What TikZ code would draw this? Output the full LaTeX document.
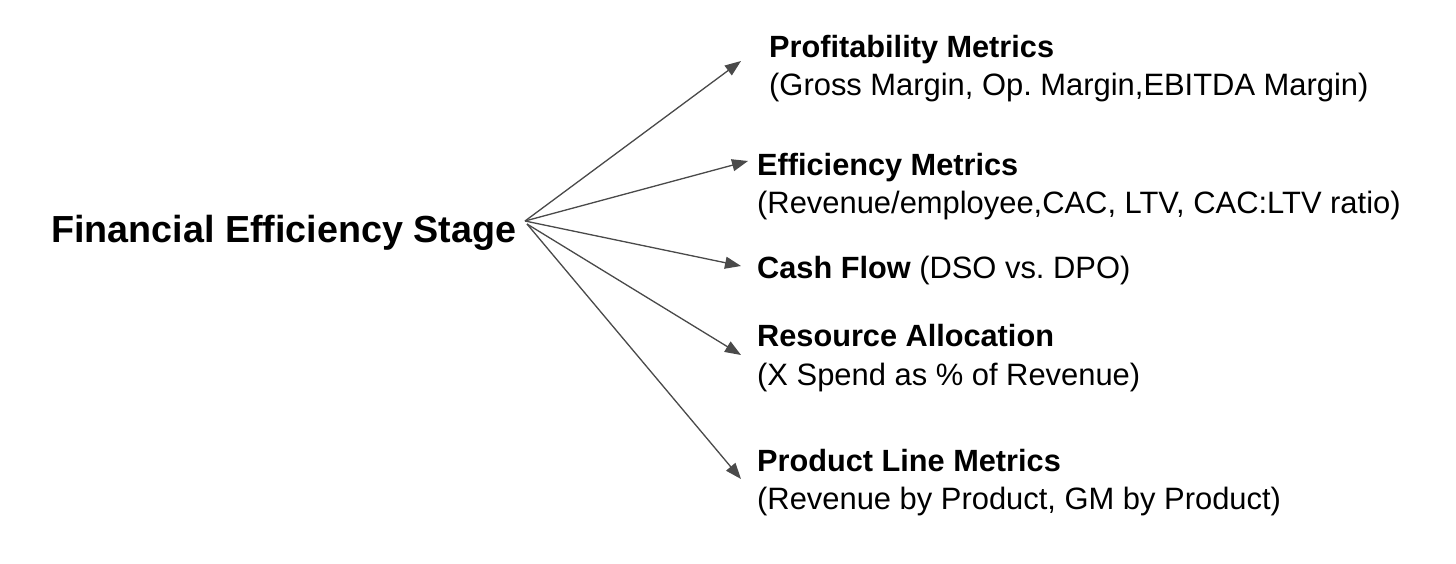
\documentclass[tikz,border=0pt]{standalone}
\usepackage{fontspec}
\setmainfont{Liberation Sans}
\usetikzlibrary{arrows.meta}
\definecolor{arrowgray}{HTML}{4A4A4A}
\frenchspacing
\tikzset{
  titletext/.style={font=\fontsize{37.7}{44}\selectfont\bfseries, inner sep=0pt, anchor=base west},
  headtext/.style={font=\fontsize{30.7}{36}\selectfont\bfseries, inner sep=0pt, anchor=base west},
  subtext/.style={font=\fontsize{30.9}{36}\selectfont, inner sep=0pt, anchor=base west},
  fanarrow/.style={draw=arrowgray, line width=1.3pt, -{Triangle[length=16pt,width=12pt]}, fill=arrowgray}
}
\begin{document}
\begin{tikzpicture}[x=1pt,y=-1pt]
\useasboundingbox (0,0) rectangle (1456,564);
\fill[white] (0,0) rectangle (1456,564);
\node[titletext] (title) at (51,242) {Financial Efficiency Stage};
\coordinate (hub) at (525,221);
\coordinate (hubb) at (527,224);

\node[headtext] (p1) at (769,58) {Profitability Metrics};
\node[subtext] (p2) at (769,96) {(Gross Margin, Op. Margin,EBITDA Margin)};
\node[headtext] (e1) at (757,176) {Efficiency Metrics};
\node[subtext] (e2) at (757,214) {(Revenue/employee,CAC, LTV, CAC:LTV ratio)};
\node[headtext] (c1) at (757,278) {Cash Flow \fontsize{30.9}{36}\mdseries(DSO vs. DPO)};
\node[headtext] (r1) at (757,346) {Resource Allocation};
\node[subtext] (r2) at (757,385) {(X Spend as \% of Revenue)};
\node[headtext] (l1) at (757,471) {Product Line Metrics};
\node[subtext] (l2) at (757,509) {(Revenue by Product, GM by Product)};

\coordinate (tp) at (741,61);
\coordinate (te) at (748,161);
\coordinate (tc) at (741,266);
\coordinate (tr) at (741,355);
\coordinate (tl) at (741,479);

\draw[fanarrow] (hub) -- (tp);
\draw[fanarrow] (hub) -- (te);
\draw[fanarrow] (hub) -- (tc);
\draw[fanarrow] (hubb) -- (tr);
\draw[fanarrow] (hubb) -- (tl);
\end{tikzpicture}
\end{document}
